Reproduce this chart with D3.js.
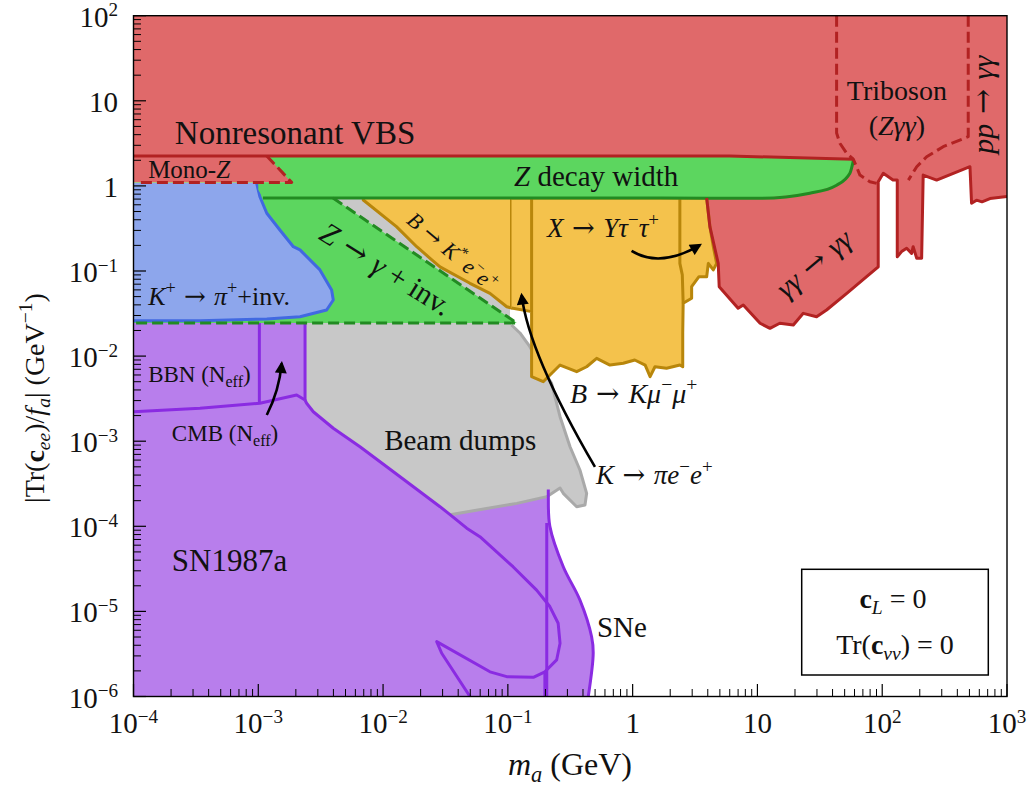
<!DOCTYPE html>
<meta charset="utf-8">
<style>
body { margin: 0; background: #fff; }
svg text { font-family: "Liberation Serif", "DejaVu Serif", serif; fill: #111; }
</style>
<body>
<svg width="1030" height="789"></svg>
<script src="https://cdn.jsdelivr.net/npm/d3@7"></script>
<script>

// ---- data (mass m_a in GeV, coupling in GeV^-1) ----
var xTickExps = [-4, -3, -2, -1, 0, 1, 2, 3];
var yTickExps = [-6, -5, -4, -3, -2, -1, 0, 1, 2];

// gamma gamma -> gamma gamma / pp -> gamma gamma lower edge, left to right
var ggEdge = [[3.92,0.72],[4.16,0.332],[4.85,0.123],[4.94,0.0654],[7.0,0.0365],[7.7,0.0398],
  [10.5,0.0243],[12.6,0.0212],[15.1,0.0243],[19.4,0.0232],[23.3,0.0318],[29.8,0.029],
  [35.8,0.0348],[52,0.0547],[75,0.0857],[92.9,0.112],[92.9,1.12],[102,1.41],[122,1.17],
  [132,1.17],[132,0.147],[143,0.169],[157,0.185],[172,0.161],[177,0.193],[189,0.141],
  [207,0.141],[213,1.34],[273,1.17],[505,1.68],[520,0.625],[570,0.68],[630,0.65],
  [730,0.71],[1000,0.75]];
var vbsEdge = [[1e-4,2.25],[6,2.25],[59,2.05]];
var monoZEdge = [[1.17e-3,2.25],[1.85e-3,1.1],[1.13e-4,1.1]];
var tribosonLeft = [[43.1,100],[43.1,4.19],[45.8,3.17],[51.9,2.42],[58.6,2.07],[66.3,1.34],[79.7,1.12],[90.2,1.07]];
var tribosonRight = [[489,100],[489,3.79],[308,2.89],[227,2.2],[189,1.68],[162,1.17]];

var zWidthBottom = [[1.09e-3,0.72],[1.66,0.72],[10.5,0.715],[26.3,0.82],[43.1,1.02],[55.1,1.41],[59,2.05]];
var zGammaInv = [[1e-4,1.1],[1.85e-3,1.1],[3.97e-3,0.72],[0.118,0.0245],[1e-4,0.0245]];

var kPiInv = [[1e-4,1.08],[9.7e-4,1.08],[1.03e-3,0.746],[1.17e-3,0.477],[1.49e-3,0.303],
  [1.91e-3,0.193],[2.16e-3,0.177],[3.12e-3,0.103],[3.87e-3,0.0598],[3.99e-3,0.0456],
  [3.53e-3,0.0348],[2.16e-3,0.029],[1.17e-3,0.0273],[3.41e-4,0.0261],[1e-4,0.026]];

var cmb = [[1e-4,2.22e-3],[3.41e-4,2.44e-3],[1.03e-3,2.79e-3],[2.03e-3,3.49e-3],[2.37e-3,3.05e-3]];
var bbn = [[1.02e-3,0.0245],[1.02e-3,2.8e-3]];
var cmbRight = [[2.37e-3,0.0245],[2.37e-3,3.05e-3]];
var sn1987a = [[2.37e-3,3.05e-3],[2.44e-3,2.79e-3],[2.76e-3,2.22e-3],[3.99e-3,1.42e-3],[6.53e-3,8.6e-4],
  [1.07e-2,5.0e-4],[1.75e-2,2.92e-4],[2.86e-2,1.70e-4],[3.44e-2,1.37e-4],[4.68e-2,9.5e-5],
  [5.97e-2,7.55e-5],[0.110,3.35e-5],[0.170,1.78e-5],[0.217,1.14e-5],[0.253,7.25e-6],
  [0.262,4.22e-6],[0.246,2.69e-6],[0.198,1.95e-6],[0.160,1.68e-6],[9.8e-2,1.71e-6],
  [7.19e-2,1.95e-6],[2.69e-2,4.41e-6],[2.95e-2,3.22e-6],[4.97e-2,1e-6]];
var sne = [[0.211,2.7e-4],[0.211,2.23e-4],[0.217,1e-4],[0.278,3.35e-5],[0.378,1.36e-5],
  [0.469,5.04e-6],[0.483,3.22e-6],[0.441,1e-6]];
var sneInner1 = [[0.205,1.09e-4],[0.205,1e-6]];
var sneInner2 = [[0.198,1.95e-6],[0.198,1e-6]];

var beamEdge = [[0.107,0.0232],[0.125,0.0187],[0.150,0.0129],[0.19,7e-3],[0.224,4.79e-3],
  [0.262,1.94e-3],[0.315,8.6e-4],[0.378,4.59e-4],[0.428,2.44e-4],[0.415,1.78e-4],
  [0.356,1.70e-4],[0.278,2.44e-4],[0.262,2.82e-4],[0.205,2.23e-4],[0.118,1.86e-4],[3.44e-2,1.37e-4]];

var bKee = [[6.94e-3,0.72],[0.107,0.72],[0.107,0.0367],[9.8e-2,0.038],[7.19e-2,0.0547],
  [4.97e-2,0.0717],[2.86e-2,0.112],[2.38e-2,0.141],[1.86e-2,0.193],[1.28e-2,0.332],[6.94e-3,0.683]];
var bKmumu = [[0.107,0.72],[3.92,0.72],[4.16,0.332],[4.43,0.193],[4.71,0.123],[4.43,0.103],
  [4.04,0.123],[3.92,0.0857],[3.4,0.0857],[2.97,0.0654],[2.97,0.0478],[2.54,0.0417],[2.52,0.0187],
  [2.52,7.5e-3],[2.39,7.85e-3],[1.87,7.19e-3],[1.51,7.5e-3],[1.38,5.73e-3],[1.26,7.85e-3],
  [1.04,9.0e-3],[0.841,8.23e-3],[0.658,7.85e-3],[0.515,9.4e-3],[0.428,7.5e-3],[0.356,6.56e-3],
  [0.262,7.85e-3],[0.192,5.0e-3],[0.155,5.73e-3],[0.155,0.0333],[0.107,0.0367]];
var bKmumuLine = [[0.155,0.72],[0.155,0.0333]];
var yTauLine = [[2.39,0.72],[2.39,0.123],[2.5,0.09],[2.54,0.0417]];

// arrows: base, control, tip
var arrows = [
  [[0.98,0.172],[1.66,0.107],[3.46,0.202]],
  [[1.17e-3,2.03e-3],[1.47e-3,3.91e-3],[1.54e-3,8.2e-3]],
  [[0.499,4.98e-4],[0.146,0.0110],[0.129,0.0522]]
];

// ---- setup ----
var svg = d3.select("svg");
var x = d3.scaleLog().domain([1e-4, 1e3]).range([133.5, 1007]);
var y = d3.scaleLog().domain([1e-6, 1e2]).range([696.5, 15.7]);
var line = d3.line().x(function(d) { return x(d[0]); }).y(function(d) { return y(d[1]); });

var defs = svg.append("defs");
defs.append("clipPath").attr("id", "plot")
  .append("rect").attr("x", 133.5).attr("y", 15.7).attr("width", 873.5).attr("height", 680.8);
defs.append("marker").attr("id", "head")
  .attr("viewBox", "0 0 10 10").attr("refX", 8).attr("refY", 5)
  .attr("markerWidth", 13).attr("markerHeight", 12).attr("markerUnits", "userSpaceOnUse")
  .attr("orient", "auto")
  .append("path").attr("d", "M0,0 L10,5 L0,10 z").attr("fill", "#000");

var g = svg.append("g").attr("clip-path", "url(#plot)");

var RED = "#e0696a", RED_S = "#b22222", GRN = "#5cd65f", GRN_S = "#228b22",
    BLU = "#8da6ec", BLU_S = "#4169e1", PUR = "#b87eec", PUR_S = "#8a2be2",
    GRY = "#c8c8c8", GRY_S = "#a9a9a9", YEL = "#f4c24c", YEL_S = "#b8860b";

function fill(pts, color) {
  g.append("path").attr("d", line(pts) + "Z").attr("fill", color).attr("stroke", "none");
}
function stroke(pts, color, dash, curve) {
  var l = curve ? line.curve(curve) : line;
  g.append("path").attr("d", l(pts)).attr("fill", "none").attr("stroke", color)
    .attr("stroke-width", 3).attr("stroke-dasharray", dash || null)
    .attr("stroke-linejoin", "round");
  line.curve(d3.curveLinear);
}

// red (VBS, mono-Z, triboson, gamma gamma)
var redFill = [[1e-4,100],[1e3,100]].concat(ggEdge.slice().reverse(), [[3.92,1.5],[1.85e-3,1.1],[1e-4,1.1]]);
fill(redFill, RED);

// purple
var purpleFill = [[1e-4,0.0245],[2.37e-3,0.0245]].concat(sn1987a.slice(0, 9), sne, [[1e-4,1e-6]]);
fill(purpleFill, PUR);

// beam dumps
var beamFill = [[2.37e-3,0.0245],[2.37e-3,0.72],[0.104,0.72],[0.104,0.0245]]
  .concat(beamEdge, sn1987a.slice(0, 8).reverse());
fill(beamFill, GRY);
stroke(beamEdge, GRY_S);

// Z -> gamma + inv
fill(zGammaInv, GRN);

// K -> pi inv
fill(kPiInv, BLU);
stroke(kPiInv.slice(1), BLU_S);

// B -> K* e e, B -> K mu mu, X -> Y tau tau
fill(bKee, YEL);
stroke(bKee.slice(1).concat([bKee[0]]), YEL_S);
fill(bKmumu, YEL);
stroke(bKmumu, YEL_S);
stroke(bKmumuLine, YEL_S);
stroke(yTauLine, YEL_S);

// Z decay width band
var bandFill = [[1.17e-3,2.25]].concat(vbsEdge.slice(1), zWidthBottom.slice().reverse().slice(1),
  [[1.0e-3,0.9],[1.0e-3,1.1],[1.85e-3,1.1]]);
fill(bandFill, GRN);
stroke(zWidthBottom, GRN_S, null, d3.curveMonotoneX);

// red boundaries
stroke(vbsEdge, RED_S);
stroke(monoZEdge, RED_S, "11,5");
stroke(ggEdge, RED_S);
stroke(tribosonLeft, RED_S, "11,5");
stroke(tribosonRight, RED_S, "11,5");

// purple boundaries
stroke(cmb, PUR_S);
stroke(bbn, PUR_S);
stroke(cmbRight, PUR_S);
stroke(sn1987a, PUR_S);
stroke(sne, PUR_S, null, d3.curveCatmullRom);
stroke(sneInner1, PUR_S);
stroke(sneInner2, PUR_S);

// green dashed
stroke(zGammaInv.slice(2), GRN_S, "11,5");

// arrows
arrows.forEach(function(a) {
  svg.append("path")
    .attr("d", "M" + x(a[0][0]) + "," + y(a[0][1]) + " Q" + x(a[1][0]) + "," + y(a[1][1]) +
      " " + x(a[2][0]) + "," + y(a[2][1]))
    .attr("fill", "none").attr("stroke", "#000").attr("stroke-width", 2.6)
    .attr("marker-end", "url(#head)");
});

// ---- text helpers ----
function rich(sel, parts, size, supShift, supScale) {
  var shift = 0;
  supShift = supShift || 0.42;
  supScale = supScale || 0.7;
  parts.forEach(function(p) {
    if (typeof p === "string") p = { s: p };
    var target = p.sup ? -supShift * size : p.sub ? 0.22 * size : 0;
    var t = sel.append("tspan").text(p.s).attr("dy", target - shift)
      .attr("font-size", (p.sup || p.sub) ? supScale * size : size);
    shift = target;
    if (p.i) t.attr("font-style", "italic");
    if (p.b) t.attr("font-weight", "bold");
    if (p.f) t.style("font-family", p.f);
  });
  return sel;
}
function label(m, c, parts, size, anchor, rot, dy) {
  var t = svg.append("text")
    .attr("transform", "translate(" + x(m) + "," + y(c) + ")" + (rot ? " rotate(" + rot + ")" : ""))
    .attr("text-anchor", anchor || "start").attr("font-size", size)
    .attr("y", dy || 0);
  rich(t, parts, size);
}

var arrow = {s: " \u2192 ", f: "DejaVu Serif"};
label(1.97e-3, 3.1, ["Nonresonant VBS"], 33, "middle");
label(1.31e-4, 1.24, ["Mono-", {s: "Z", i: 1}], 25);
label(0.51, 1.0, [{s: "Z", i: 1}, " decay width"], 29, "middle");
label(1.04e-2, 0.103, [{s: "Z", i: 1}, arrow, {s: "\u03b3", i: 1}, " + inv."], 30, "middle", 32, 9);
label(3.56e-2, 0.167, [{s: "B", i: 1}, arrow, {s: "K", i: 1}, {s: "*", sup: 1}, {s: "\u2009e", i: 1},
  {s: "\u2212", sup: 1}, {s: "e", i: 1}, {s: "+", sup: 1}], 22, "middle", 40, 7);
label(0.206, 0.251, [{s: "X", i: 1}, arrow, {s: "Y\u03c4", i: 1}, {s: "\u2212", sup: 1},
  {s: "\u03c4", i: 1}, {s: "+", sup: 1}], 27);
label(1.31e-4, 0.0398, [{s: "K", i: 1}, {s: "+", sup: 1}, arrow, {s: "\u03c0", i: 1}, {s: "+", sup: 1}, "+inv."], 26);
label(1.31e-4, 4.96e-3, ["BBN (N", {s: "eff", sub: 1}, ")"], 23);
label(2.03e-4, 1e-3, ["CMB (N", {s: "eff", sub: 1}, ")"], 23);
label(1.02e-2, 7.88e-4, ["Beam dumps"], 29);
label(0.315, 2.81e-3, [{s: "B", i: 1}, arrow, {s: "K\u03bc", i: 1}, {s: "\u2212", sup: 1},
  {s: "\u03bc", i: 1}, {s: "+", sup: 1}], 28);
label(0.508, 3.14e-4, [{s: "K", i: 1}, arrow, {s: "\u03c0e", i: 1}, {s: "\u2212", sup: 1},
  {s: "e", i: 1}, {s: "+", sup: 1}], 27);
label(2.03e-4, 2.98e-5, ["SN1987a"], 31);
label(0.518, 5.0e-6, ["SNe"], 29);
label(131, 10.2, ["Triboson"], 28, "middle");
label(131, 3.96, ["(", {s: "Z\u03b3\u03b3", i: 1}, ")"], 28, "middle");
label(28.9, 0.118, [{s: "\u03b3\u03b3", i: 1}, arrow, {s: "\u03b3\u03b3", i: 1}], 29, "middle", -40, 8);
label(665, 9.0, [{s: "pp", i: 1}, arrow, {s: "\u03b3\u03b3", i: 1}], 30, "middle", -90, 8);

// info box
svg.append("rect").attr("x", 801.7).attr("y", 569.3).attr("width", 186.6).attr("height", 105.7)
  .attr("fill", "#fff").attr("stroke", "#000").attr("stroke-width", 1.5);
rich(svg.append("text").attr("x", 893).attr("y", 608).attr("text-anchor", "middle").attr("font-size", 28),
  [{s: "c", b: 1}, {s: "L", sub: 1, i: 1}, " = 0"], 28);
rich(svg.append("text").attr("x", 895).attr("y", 654).attr("text-anchor", "middle").attr("font-size", 28),
  ["Tr(", {s: "c", b: 1}, {s: "\u03bd\u03bd", sub: 1, i: 1}, ") = 0"], 28);

// ---- axes ----
var ax = svg.append("g");
ax.append("rect").attr("x", 133.5).attr("y", 15.7).attr("width", 873.5).attr("height", 680.8)
  .attr("fill", "none").attr("stroke", "#000").attr("stroke-width", 1.4);

function tickText(t, e) {
  if (e === 0) rich(t, ["1"], 29);
  else if (e === 1) rich(t, ["10"], 29);
  else rich(t, ["10", {s: (e < 0 ? "\u2212" : "") + Math.abs(e), sup: 1}], 29, 0.36, 0.66);
}
xTickExps.forEach(function(e, i) {
  var v = Math.pow(10, e);
  ax.append("line").attr("x1", x(v)).attr("x2", x(v)).attr("y1", 696.5).attr("y2", 684)
    .attr("stroke", "#000").attr("stroke-width", 1.2);
  if (i < xTickExps.length - 1) for (var k = 2; k < 10; k++) {
    ax.append("line").attr("x1", x(k * v)).attr("x2", x(k * v)).attr("y1", 696.5).attr("y2", 689)
      .attr("stroke", "#000").attr("stroke-width", 1);
  }
  tickText(ax.append("text").attr("x", x(v)).attr("y", 733).attr("text-anchor", "middle").attr("font-size", 29), e);
});
yTickExps.forEach(function(e, i) {
  var v = Math.pow(10, e);
  ax.append("line").attr("x1", 133.5).attr("x2", 146).attr("y1", y(v)).attr("y2", y(v))
    .attr("stroke", "#000").attr("stroke-width", 1.2);
  if (i < yTickExps.length - 1) for (var k = 2; k < 10; k++) {
    ax.append("line").attr("x1", 133.5).attr("x2", 141).attr("y1", y(k * v)).attr("y2", y(k * v))
      .attr("stroke", "#000").attr("stroke-width", 1);
  }
  tickText(ax.append("text").attr("x", 118).attr("y", y(v) + 11).attr("text-anchor", "end").attr("font-size", 29), e);
});

rich(ax.append("text").attr("x", 570).attr("y", 775).attr("text-anchor", "middle").attr("font-size", 32),
  [{s: "m", i: 1}, {s: "a", sub: 1, i: 1}, " (GeV)"], 32);
rich(ax.append("text").attr("transform", "translate(44,398) rotate(-90)").attr("text-anchor", "middle").attr("font-size", 28),
  ["|Tr(", {s: "c", b: 1}, {s: "ee", sub: 1, i: 1}, ")", "/", {s: "f", i: 1}, {s: "a", sub: 1, i: 1}, "|", " (GeV",
   {s: "\u22121", sup: 1}, ")"], 28);

</script>
</body>
